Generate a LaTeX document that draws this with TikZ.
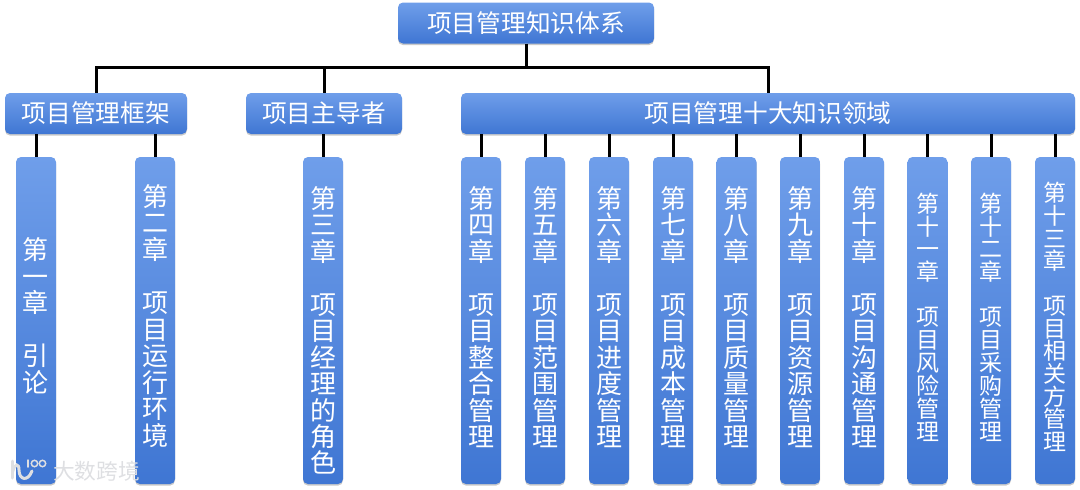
\documentclass[tikz,border=0pt]{standalone}
\usepackage{fontspec}
\setmainfont{Noto Sans CJK SC}
\usetikzlibrary{shadows,calc}
\definecolor{boxtop}{HTML}{6F9EEA}
\definecolor{boxbot}{HTML}{3F76D3}
\definecolor{markgray}{HTML}{DEDFE2}
\tikzset{
  x=1pt,y=-1pt,
  boxbase/.style={draw=none,rounded corners=5pt,inner sep=0pt,text=white,
    top color=boxtop,bottom color=boxbot,
    drop shadow={shadow xshift=0pt,shadow yshift=-1.6pt,opacity=.3,fill=black!70}},
  headbox/.style={boxbase,minimum height=41pt,font=\fontsize{24.7}{27}\selectfont},
  chapbox/.style={boxbase,minimum width=40pt,minimum height=327pt},
  chaptext/.style={text=white,inner sep=0pt,align=center},
  wire/.style={draw=black,line width=3pt,line join=miter},
  markstroke/.style={draw=markgray,line width=3pt,line cap=round},
}
% name, x, text centre y, font size, line pitch, parent, lines
\newcommand\chapter[7]{%
  \node[chapbox] (#1) at (#2,320.5) {};
  \node[chaptext,font=\fontsize{#4}{#5}\selectfont] (#1t) at (#2,#3) {#7};
  \draw[wire] (#6.south -| #1.north) -- (#1.north);
}
\begin{document}
\begin{tikzpicture}
\useasboundingbox (0,0) rectangle (1080,490);
\node[headbox,minimum width=256pt] (top) at (526,23) {项目管理知识体系};
\node[headbox,minimum width=182pt] (fw) at (96,113.5) {项目管理框架};
\node[headbox,minimum width=156pt] (lead) at (324,113.5) {项目主导者};
\node[headbox,minimum width=614pt] (ka) at (768,113.5) {项目管理十大知识领域};
\coordinate (bus) at (526,67);
\draw[wire] (top.south) -- (bus);
\draw[wire] (fw.north) |- (bus);
\draw[wire] (lead.north) -- (lead.north |- bus);
\draw[wire] (ka.north) |- (bus);

\chapter{c1}{36}{316}{26}{26.5}{fw}{第\\一\\章\\[26.5pt]引\\论}
\chapter{c2}{155}{316}{26}{26.5}{fw}{第\\二\\章\\[27pt]项\\目\\运\\行\\环\\境}
\chapter{c3}{323}{330.5}{26}{26.4}{lead}{第\\三\\章\\[27pt]项\\目\\经\\理\\的\\角\\色}
\chapter{c4}{481}{317}{26}{26.4}{ka}{第\\四\\章\\[27pt]项\\目\\整\\合\\管\\理}
\chapter{c5}{545}{317}{26}{26.4}{ka}{第\\五\\章\\[27pt]项\\目\\范\\围\\管\\理}
\chapter{c6}{609}{317}{26}{26.4}{ka}{第\\六\\章\\[27pt]项\\目\\进\\度\\管\\理}
\chapter{c7}{673}{317}{26}{26.4}{ka}{第\\七\\章\\[27pt]项\\目\\成\\本\\管\\理}
\chapter{c8}{736.5}{317}{26}{26.4}{ka}{第\\八\\章\\[27pt]项\\目\\质\\量\\管\\理}
\chapter{c9}{800}{317}{26}{26.4}{ka}{第\\九\\章\\[27pt]项\\目\\资\\源\\管\\理}
\chapter{c10}{864}{317}{26}{26.4}{ka}{第\\十\\章\\[27pt]项\\目\\沟\\通\\管\\理}
\chapter{c11}{927.5}{317}{23}{22.9}{ka}{第\\十\\一\\章\\[22pt]项\\目\\风\\险\\管\\理}
\chapter{c12}{991}{317}{23}{22.9}{ka}{第\\十\\二\\章\\[22pt]项\\目\\采\\购\\管\\理}
\chapter{c13}{1055}{317}{23}{22.7}{ka}{第\\十\\三\\章\\[22pt]项\\目\\相\\关\\方\\管\\理}

% watermark
\node[text=markgray,inner sep=0pt,font=\fontsize{21.7}{23}\selectfont] (wm) at (96.5,471) {大数跨境};
\draw[markstroke] (12.5,461) -- (12.5,478);
\draw[markstroke] (12.5,472) .. controls (15,463) and (19,463) .. (19,470) .. controls (19,480) and (28,482) .. (32,471);
\draw[markstroke,line width=1.5pt] (28,460) -- (28,467);
\draw[markstroke,line width=1.5pt] (34.5,463.5) circle (3.2);
\draw[markstroke,line width=1.5pt] (42.5,463.5) circle (3.2);
\end{tikzpicture}
\end{document}
